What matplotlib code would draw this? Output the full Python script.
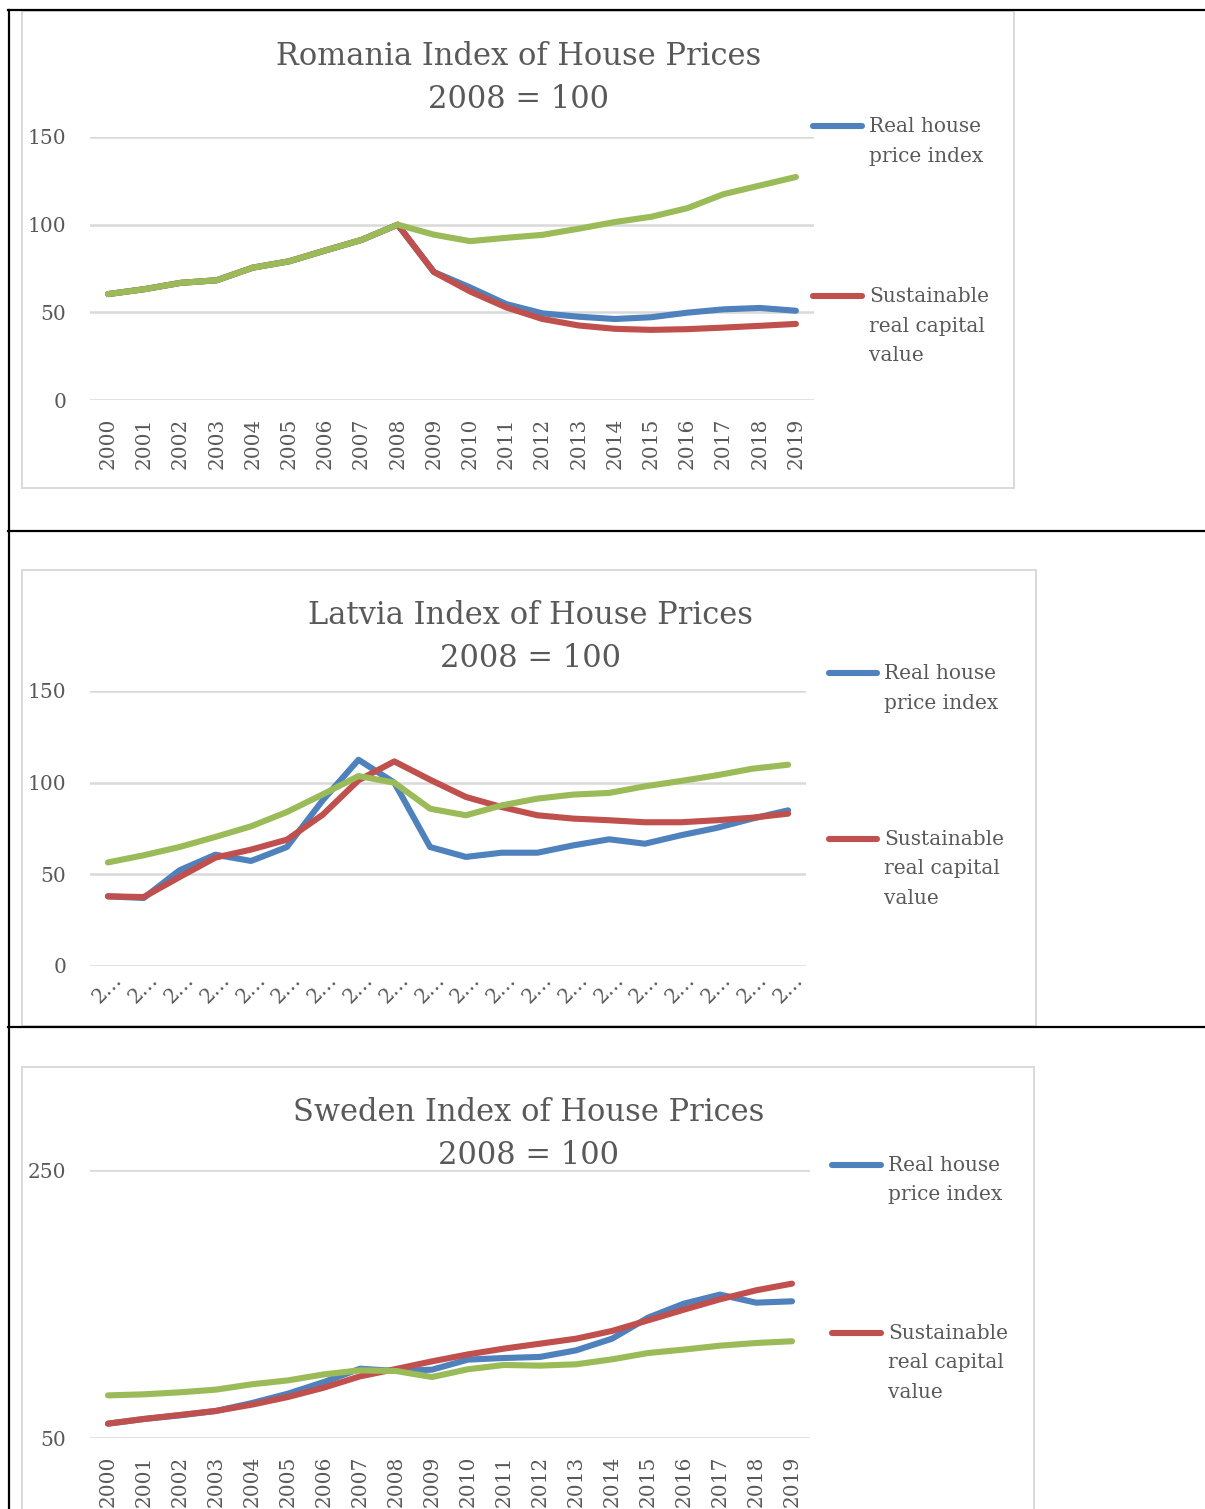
import matplotlib
matplotlib.use("Agg")
import matplotlib.pyplot as plt
from matplotlib.lines import Line2D
from matplotlib.patches import Rectangle

W, H = 1205, 1509
DPI = 100

years = list(range(2000, 2020))

# Romania
ro_real = [60.4, 63.2, 66.8, 68.3, 75.5, 79.1, 85.3, 91.3, 100, 73.0, 64.2, 54.7, 49.4, 47.5, 46.2, 47.2, 49.8, 51.7, 52.5, 50.9]
ro_sust = [60.4, 63.2, 66.8, 68.3, 75.5, 79.1, 85.3, 91.3, 100, 73.0, 61.9, 52.8, 46.2, 42.5, 40.6, 40.0, 40.4, 41.3, 42.3, 43.4]
ro_third = [60.4, 63.2, 66.8, 68.3, 75.5, 79.1, 85.3, 91.3, 100, 94.3, 90.6, 92.5, 94.2, 97.7, 101.5, 104.5, 109.4, 117.4, 122.3, 127.2]

# Latvia
lv_real = [38.0, 37.1, 52.2, 60.7, 57.3, 64.9, 90.4, 112.5, 100, 64.9, 59.5, 61.8, 61.8, 65.8, 69.1, 66.7, 71.3, 75.3, 80.4, 84.9]
lv_sust = [38.0, 37.6, 48.5, 59.1, 63.5, 68.9, 82.5, 101.3, 111.6, 101.6, 92.2, 86.7, 82.2, 80.4, 79.5, 78.4, 78.4, 79.5, 80.9, 83.1]
lv_third = [56.5, 60.4, 64.9, 70.4, 76.2, 84.0, 93.6, 103.6, 100, 85.8, 82.2, 87.6, 91.3, 93.5, 94.4, 98.0, 100.9, 104.0, 107.6, 109.8]

# Sweden
se_real = [60.7, 64.2, 66.9, 70.2, 76.1, 83.1, 91.8, 101.7, 100, 101.0, 108.5, 109.7, 110.5, 115.4, 124.1, 139.8, 150.3, 157.0, 151.0, 152.0]
se_sust = [60.7, 64.2, 67.2, 70.2, 74.9, 80.6, 87.6, 96.0, 101.5, 107.2, 112.4, 116.7, 120.4, 124.1, 129.9, 137.8, 145.8, 153.5, 160.2, 165.2]
se_third = [81.8, 82.6, 84.1, 86.1, 90.1, 93.0, 97.5, 100.5, 100, 95.5, 101.3, 104.5, 104.0, 105.0, 108.7, 113.4, 116.0, 118.9, 120.9, 122.2]

titles = ["Romania Index of House Prices\n2008 = 100",
          "Latvia Index of House Prices\n2008 = 100",
          "Sweden Index of House Prices\n2008 = 100"]
legend_labels = ["Real house\nprice index", "Sustainable\nreal capital\nvalue"]

BLUE, RED, GREEN = "#4f81bd", "#c0504d", "#9bbb59"
GRID = "#d9d9d9"
TXT = "#595959"
FONT = "DejaVu Serif"
LW = 4.4

plt.rcParams['font.family'] = FONT

fig = plt.figure(figsize=(W / DPI, H / DPI), dpi=DPI)
fig.patch.set_facecolor("white")


def fx(x):
    return x / W


def fy(y):
    return 1 - y / H


# page lines
for (x0, y0, x1, y1) in [(8, 10, 1205, 10), (9, 10, 9, 1509), (8, 531, 1205, 531), (8, 1027, 1205, 1027)]:
    fig.add_artist(Line2D([fx(x0), fx(x1)], [fy(y0), fy(y1)], color="black", lw=1.6,
                          transform=fig.transFigure))

# chart frames
for (x0, y0, x1, y1) in [(22, 11, 1014, 488), (22, 570, 1036, 1026), (22, 1067, 1034, 1540)]:
    fig.add_artist(Rectangle((fx(x0), fy(y1)), fx(x1) - fx(x0), fy(y0) - fy(y1),
                             transform=fig.transFigure, facecolor="none",
                             edgecolor=GRID, lw=1.4, zorder=0))

panels = [
    dict(left=90, right=814, top=137, bottom=400, ylim=(0, 150), yticks=[0, 50, 100, 150],
         data=(ro_real, ro_sust, ro_third), title=titles[0], tcx=519, tcy=78,
         xlab="full", leg=(810, 865, 869, 126, 296)),
    dict(left=90, right=806, top=691, bottom=966, ylim=(0, 150), yticks=[0, 50, 100, 150],
         data=(lv_real, lv_sust, lv_third), title=titles[1], tcx=530, tcy=637,
         xlab="trunc", leg=(826, 880, 884, 673, 839)),
    dict(left=90, right=810, top=1170, bottom=1438, ylim=(50, 250), yticks=[50, 250],
         data=(se_real, se_sust, se_third), title=titles[2], tcx=529, tcy=1134,
         xlab="full", leg=(829, 884, 888, 1165, 1333)),
]

idx = list(range(len(years)))
for p in panels:
    ax = fig.add_axes([fx(p["left"]), fy(p["bottom"]), fx(p["right"] - p["left"]),
                       (p["bottom"] - p["top"]) / H])
    ax.set_facecolor("none")
    ax.set_xlim(-0.5, len(years) - 0.5)
    ax.set_ylim(*p["ylim"])
    ax.set_yticks(p["yticks"])
    for s in ax.spines.values():
        s.set_visible(False)
    ax.grid(axis="y", color=GRID, lw=1.8)
    ax.set_axisbelow(True)
    ax.tick_params(axis="both", length=0, colors=TXT, labelsize=14.5)
    ax.tick_params(axis="y", pad=17)
    ax.set_xticks(idx)
    if p["xlab"] == "full":
        ax.set_xticklabels([str(y) for y in years], rotation=90, fontsize=14.5, color=TXT)
        ax.tick_params(axis="x", pad=12.5)
    else:
        ax.set_xticklabels(["2…" for _ in years], rotation=45, fontsize=14.5, color=TXT,
                           ha="center")
        ax.tick_params(axis="x", pad=3)
    real, sust, third = p["data"]
    for vals, col, z in [(real, BLUE, 3), (sust, RED, 4), (third, GREEN, 5)]:
        ax.plot(idx, vals, color=col, lw=LW, solid_capstyle="round",
                solid_joinstyle="round", zorder=z, clip_on=False)
    fig.text(fx(p["tcx"]), fy(p["tcy"]), p["title"], ha="center", va="center",
             fontsize=22, color=TXT, linespacing=1.5)
    lx0, lx1, tx, yb, yr = p["leg"]
    for col, yy, lab in [(BLUE, yb, legend_labels[0]), (RED, yr, legend_labels[1])]:
        fig.add_artist(Line2D([fx(lx0 + 3), fx(lx1 - 3)], [fy(yy), fy(yy)], color=col, lw=LW,
                              solid_capstyle="round", transform=fig.transFigure))
        fig.text(fx(tx), fy(yy - 9), lab, ha="left", va="top", fontsize=14.5, color=TXT,
                 linespacing=1.7)

fig.savefig("out.png", dpi=DPI, facecolor="white")
